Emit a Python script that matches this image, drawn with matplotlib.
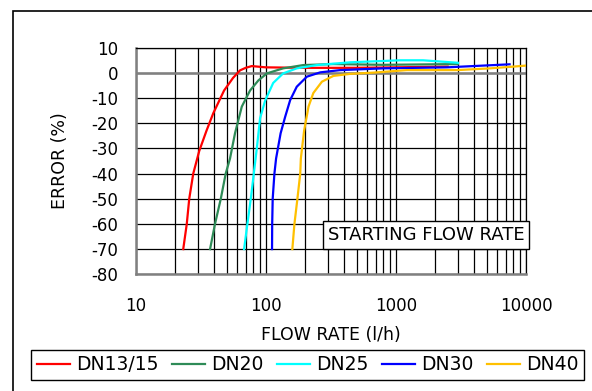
import numpy as np
import matplotlib
matplotlib.use('Agg')
import matplotlib.pyplot as plt
from matplotlib.patches import Rectangle
from matplotlib.ticker import FixedLocator, NullFormatter

plt.rcParams['font.family'] = 'DejaVu Sans'
plt.rcParams['axes.unicode_minus'] = False

# values (flow in l/h, error in %)
dn15_flow = [23.2, 24.7, 25.8, 27.7, 30.8, 35, 39.5, 47.8, 56, 63.4, 70, 78, 100, 200, 500, 1000, 2500]
dn15_err = [-70, -60, -50, -40, -31, -23, -16, -7, -2, 1, 2, 2.7, 2.2, 2, 2, 2.2, 2.5]

dn20_flow = [37.3, 40.7, 45.1, 49.2, 53.1, 58, 65.4, 75.7, 87.7, 102, 136, 194, 331, 800, 3000]
dn20_err = [-70, -60, -50, -40, -34, -24, -13.4, -7, -3, -0.2, 1.8, 3.1, 3.5, 3.2, 3.5]

dn25_flow = [68.1, 72.2, 76.7, 80.9, 85.3, 90.4, 98.9, 114, 136, 173, 247, 445, 1080, 1620, 3000]
dn25_err = [-70, -60, -50, -40, -30, -18, -11, -4, -0.2, 1.8, 3.1, 4.2, 5, 5, 4]

dn30_flow = [111.7, 112, 113, 116.5, 120, 130, 141, 154, 173, 207, 262, 373, 800, 2470, 7480]
dn30_err = [-70, -60, -50, -40, -34, -24, -17.4, -10.8, -5.5, -1.5, 0.2, 1.1, 1.8, 2.2, 3.4]

dn40_flow = [160, 166, 175, 184, 186, 197, 213, 232, 270, 331, 445, 673, 1216, 2945, 5309, 8040, 10000]
dn40_err = [-70, -60, -50, -40, -34, -23, -13.4, -8, -3.5, -1.2, -0.4, 0.1, 1.1, 1.1, 1.8, 2.5, 2.9]

series = [
    ('DN13/15', dn15_flow, dn15_err, '#ff0000'),
    ('DN20', dn20_flow, dn20_err, '#2e8b57'),
    ('DN25', dn25_flow, dn25_err, '#00ffff'),
    ('DN30', dn30_flow, dn30_err, '#0000ff'),
    ('DN40', dn40_flow, dn40_err, '#ffc000'),
]

y_ticks = list(range(-80, 11, 10))
x_ticks = [10, 100, 1000, 10000]

fig = plt.figure(figsize=(5.92, 3.91), dpi=100)
# outer chart frame, cut off at the right and bottom edges as in the source
fig.patches.append(Rectangle((13 / 592, -0.1), 1.2, 1 - 11 / 391 + 0.1,
                             transform=fig.transFigure, fill=False,
                             edgecolor='black', lw=1.2))

ax = fig.add_axes([0.2292, 0.2985, 0.6593, 0.5795])
ax.set_xscale('log')
ax.set_xlim(10, 10000)
ax.set_ylim(-80, 10)

ax.xaxis.set_major_locator(FixedLocator(x_ticks))
minor = [m * d for d in x_ticks[:-1] for m in range(2, 10)]
ax.xaxis.set_minor_locator(FixedLocator(minor))
ax.xaxis.set_minor_formatter(NullFormatter())
ax.set_xticklabels([str(v) for v in x_ticks])
ax.set_yticks(y_ticks)

ax.grid(True, which='both', axis='x', color='black', lw=0.9)
ax.grid(True, which='major', axis='y', color='black', lw=0.9)
ax.axhline(0, color='#808080', lw=1.8, zorder=2)
ax.tick_params(axis='both', which='both', length=0, labelsize=12)
ax.tick_params(axis='x', pad=16)
ax.tick_params(axis='y', pad=12.5)

for side in ['left', 'bottom']:
    ax.spines[side].set_color('#808080')
    ax.spines[side].set_linewidth(1.8)
for side in ['top', 'right']:
    ax.spines[side].set_color('black')
    ax.spines[side].set_linewidth(0.9)

for name, fl, er, col in series:
    ax.plot(fl, er, color=col, lw=1.6, label=name, zorder=3)

ax.set_xlabel('FLOW RATE (l/h)', fontsize=12.5, labelpad=8)
ax.set_ylabel('ERROR (%)', fontsize=12.5, labelpad=16)

fig.text(0.7196, 0.399, 'STARTING FLOW RATE', fontsize=13, ha='center', va='center',
         bbox=dict(boxstyle='square,pad=0.25', facecolor='white', edgecolor='black', lw=1))

leg = fig.legend(loc='center', bbox_to_anchor=(0.520, 0.0665), ncol=5, fontsize=13.5,
                 frameon=True, fancybox=False, edgecolor='black', framealpha=1,
                 handlelength=1.75, handletextpad=0.35, columnspacing=0.7,
                 borderpad=0.3, borderaxespad=0)
leg.get_frame().set_linewidth(1)

fig.savefig('out.png', dpi=100)
